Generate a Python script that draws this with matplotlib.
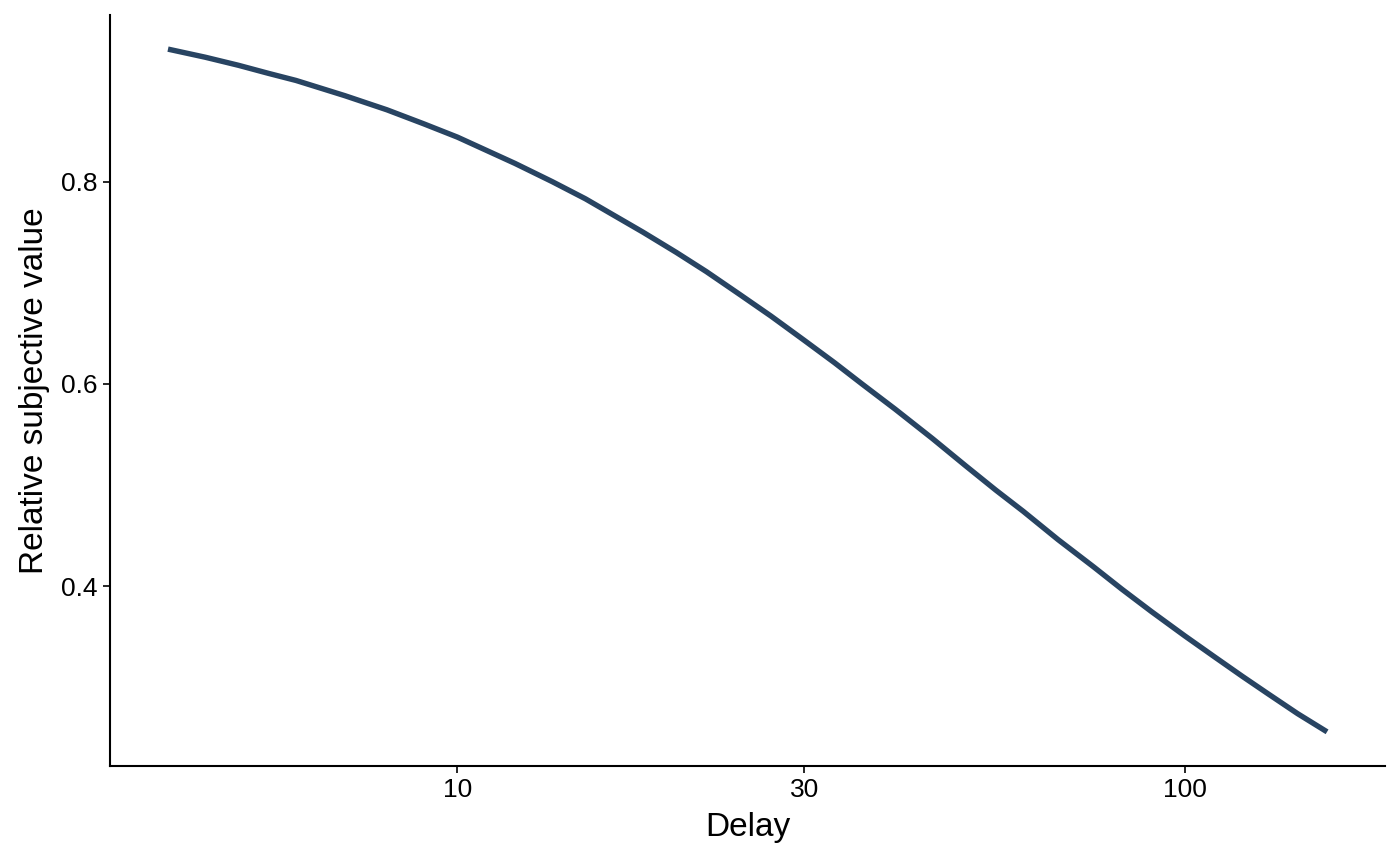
import numpy as np
import matplotlib
matplotlib.use("Agg")
import matplotlib.pyplot as plt
from matplotlib.ticker import FixedLocator, NullLocator

plt.rcParams['font.family'] = ['Liberation Sans', 'DejaVu Sans']

# values
delay = [4, 4.5, 5, 5.5, 6, 7, 8, 9, 10, 12, 13.5, 15, 18, 20, 22, 24.5, 27, 30, 33,
         36, 40, 45, 50, 55, 60, 67, 75, 82, 90, 100, 110, 120, 130, 143, 157]
value = [0.931, 0.923, 0.915, 0.907, 0.900, 0.885, 0.871, 0.857, 0.844, 0.818,
         0.800, 0.783, 0.750, 0.730, 0.711, 0.688, 0.667, 0.643, 0.621, 0.600,
         0.575, 0.546, 0.519, 0.495, 0.474, 0.446, 0.419, 0.397, 0.375, 0.351,
         0.330, 0.311, 0.294, 0.274, 0.256]
xticks = [10, 30, 100]
yticks = [0.4, 0.6, 0.8]

fig = plt.figure(figsize=(14, 8.66), dpi=100)
ax = fig.add_axes([0.0786, 0.1155, 0.9107, 0.8672])
ax.plot(delay, value, color='#284462', lw=3.9, solid_capstyle='butt')
ax.set_xscale('log')

# ggplot-like 5% expansion
lx = np.log10([min(delay), max(delay)])
span = lx[1] - lx[0]
ax.set_xlim(10 ** (lx[0] - 0.05 * span), 10 ** (lx[1] + 0.05 * span))
ys = max(value) - min(value)
ax.set_ylim(min(value) - 0.05 * ys, max(value) + 0.05 * ys)

ax.xaxis.set_major_locator(FixedLocator(xticks))
ax.xaxis.set_minor_locator(NullLocator())
ax.set_xticklabels([str(t) for t in xticks])
ax.set_yticks(yticks)
ax.set_yticklabels([f'{t:.1f}' for t in yticks])

for s in ['top', 'right']:
    ax.spines[s].set_visible(False)
for s in ['left', 'bottom']:
    ax.spines[s].set_linewidth(1.5)
ax.tick_params(axis='both', length=5, width=1.2, labelsize=19, color='black', labelcolor='black', pad=4)
ax.set_xlabel('Delay', fontsize=24, labelpad=7)
ax.set_ylabel('Relative subjective value', fontsize=24, labelpad=8)

fig.savefig('out.png', dpi=100)
